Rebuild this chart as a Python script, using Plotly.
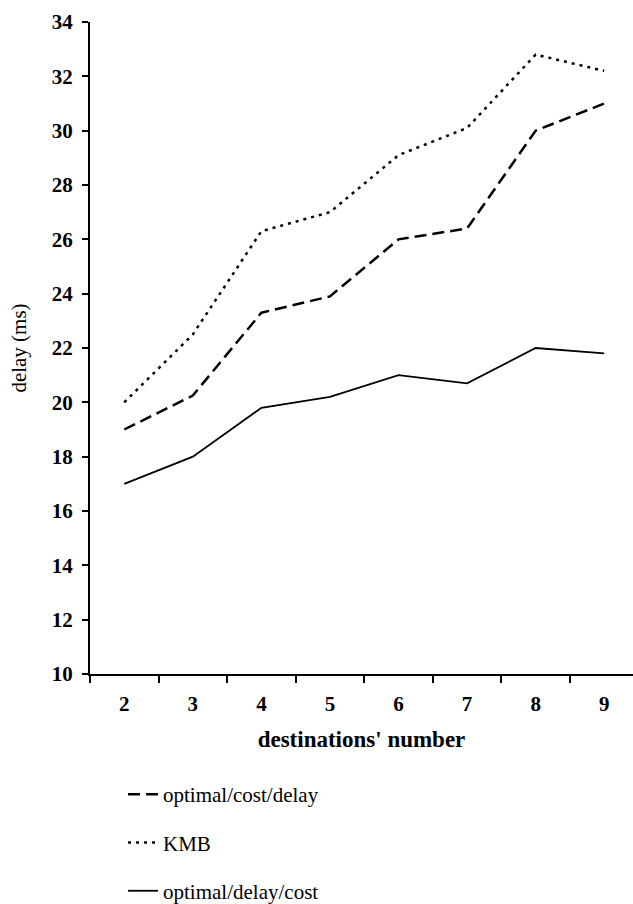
import plotly.graph_objects as go

categories = ["2", "3", "4", "5", "6", "7", "8", "9"]
optimal_cost_delay = [19.0, 20.25, 23.3, 23.9, 26.0, 26.4, 30.0, 31.0]
kmb = [20.0, 22.5, 26.3, 27.0, 29.1, 30.1, 32.8, 32.2]
optimal_delay_cost = [17.0, 18.0, 19.8, 20.2, 21.0, 20.7, 22.0, 21.8]
y_ticks = list(range(10, 35, 2))

FONT = "'Liberation Serif', 'Times New Roman', 'DejaVu Serif', serif"

fig = go.Figure()
fig.add_trace(go.Scatter(x=categories, y=optimal_cost_delay, mode="lines",
                         name="optimal/cost/delay", legendgroup="a",
                         line=dict(color="black", width=2.5, dash="12px,6px")))
fig.add_trace(go.Scatter(x=categories, y=kmb, mode="lines",
                         name="KMB", legendgroup="b",
                         line=dict(color="black", width=2.5, dash="3px,5px")))
fig.add_trace(go.Scatter(x=categories, y=optimal_delay_cost, mode="lines",
                         name="optimal/delay/cost", legendgroup="c",
                         line=dict(color="black", width=1.8)))

fig.update_layout(
    width=633, height=904,
    margin=dict(l=90, r=0, t=22, b=230),
    paper_bgcolor="white", plot_bgcolor="white",
    font=dict(family=FONT, color="black"),
    showlegend=True,
    legend=dict(orientation="v", x=0.0608, xanchor="left",
                yref="container", y=1 - 774 / 904, yanchor="top",
                font=dict(family=FONT, size=21, color="black"),
                tracegroupgap=18, bgcolor="rgba(0,0,0,0)"),
    xaxis=dict(type="category", categoryorder="array", categoryarray=categories,
               range=[-0.5, 7.42], tickson="boundaries", ticks="outside", ticklen=7,
               tickwidth=2, tickcolor="black", showline=True, linecolor="black",
               linewidth=2, showgrid=False, zeroline=False, ticklabelstandoff=10,
               tickfont=dict(family=FONT, size=21, color="black", weight="bold"),
               title=dict(text="destinations' number", standoff=16,
                          font=dict(family=FONT, size=23, color="black", weight="bold"))),
    yaxis=dict(range=[10, 34], tickvals=y_ticks, ticks="outside", ticklen=6,
               tickwidth=2, tickcolor="black", showline=True, linecolor="black",
               linewidth=2, showgrid=False, zeroline=False, ticklabelstandoff=5,
               tickfont=dict(family=FONT, size=21, color="black", weight="bold"),
               title=dict(text="delay (ms)", standoff=19,
                          font=dict(family=FONT, size=21, color="black"))),
)

fig.write_html("out.html")
